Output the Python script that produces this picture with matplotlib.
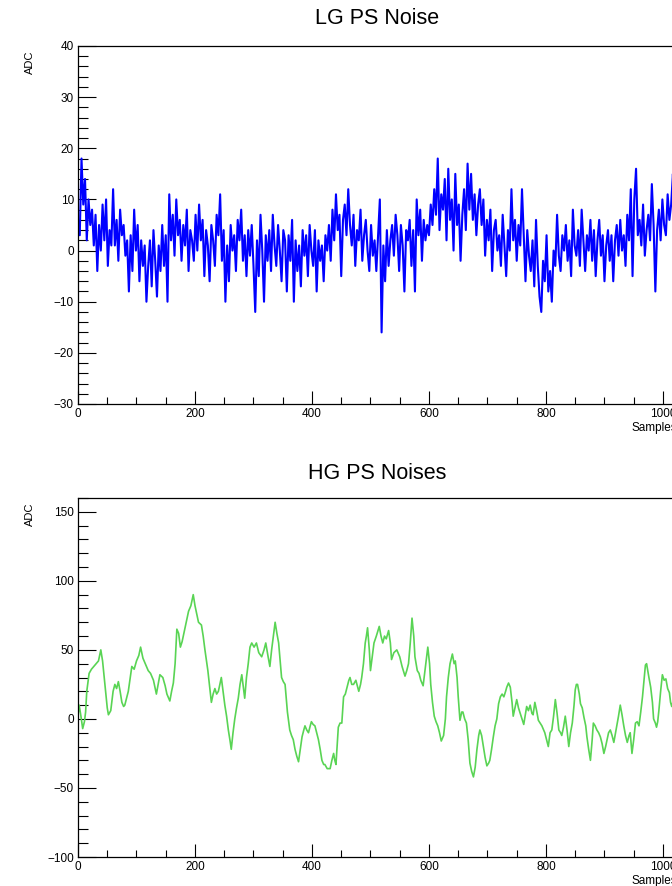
import numpy as np
import matplotlib
matplotlib.use("Agg")
import matplotlib.pyplot as plt
from matplotlib.ticker import MultipleLocator

plt.rcParams['font.family'] = ['Liberation Sans', 'DejaVu Sans']

# LG noise, one value every 3 samples
lg_step = 3
lg_adc = [
    6, 3, 18, 9, 14, 2, 10, 5, 8, 1,
    7, -4, 5, 0, 9, 2, 10, -3, 4, 1,
    12, 1, 6, -2, 8, 3, 5, -1, 2, -8,
    3, -4, 8, 0, 5, -6, 2, -3, 1, -10,
    -3, 2, -7, 4, -2, -9, 1, -4, 5, -3,
    3, -10, 11, 2, 7, -1, 10, 3, 6, -2,
    5, 1, 8, -4, 4, 2, -2, 7, 0, 9,
    2, 6, -5, 4, 1, -6, 5, 2, -3, 7,
    3, 11, -2, 4, -10, 1, -6, 5, 0, 3,
    -4, 6, 2, 8, -2, 3, -5, 4, -1, 5,
    -3, -12, 2, -5, 7, 0, -10, 3, -2, 4,
    -4, 7, 1, -3, 5, 0, -6, 4, 2, -8,
    3, -2, 6, -10, 2, -4, 1, -7, 4, -1,
    3, -5, 5, 0, -3, 4, -8, 2, -2, 1,
    -6, 3, 0, 5, -2, 8, 2, 11, 4, 7,
    -5, 6, 9, 3, 12, 5, 1, 7, -3, 4,
    2, 8, -2, 3, 6, 0, -4, 5, -1, 2,
    -4, 3, 10, -16, 1, -6, 4, -3, 2, 5,
    -1, 7, 3, -4, 5, 1, -8, 4, 2, 6,
    -3, 4, -8, 10, 3, 8, -2, 6, 2, 5,
    3, 9, 5, 12, 7, 18, 4, 11, 8, 14,
    2, 16, 6, 10, 0, 15, 5, 9, -2, 7,
    12, 4, 17, 8, 15, 6, 11, 3, 9, 12,
    5, 10, -1, 6, 2, 8, -4, 4, 6, 0,
    3, -3, 7, 1, -5, 4, 0, 12, 2, 6,
    -2, 5, 1, 12, 3, -6, 4, -1, -4, 2,
    -7, 6, -3, -9, -12, -2, -6, 3, -8, -4,
    -10, 0, -3, 7, -1, -4, 3, 0, 5, -2,
    2, -5, 8, 1, -1, 4, -3, 8, 2, -4,
    3, 0, 6, -2, 4, -5, 2, 6, -1, 3,
    -6, 1, 4, -2, 3, -6, 2, 5, -1, 6,
    0, 3, -3, 7, 2, 12, -5, 10, 16, 3,
    6, 1, 9, -1, 4, 7, 2, 13, 5, -8,
    4, 8, 2, 10, 5, 3, 11, 6, 9, 15,
    7, 12,
]

# HG noise, (sample, adc) pairs
hg_points = [
    (0, 3), (2, 10), (5, 2), (8, -7), (11, -2), (13, 5), (15, 20), (19, 33), (23, 36), (27, 38),
    (31, 40), (35, 42), (39, 50), (42, 42), (46, 25), (50, 8), (52, 3), (56, 6), (60, 20), (63, 25),
    (66, 22), (69, 27), (72, 20), (75, 12), (78, 9), (80, 10), (86, 20), (92, 38), (96, 36), (100, 42),
    (104, 46), (107, 52), (111, 44), (115, 40), (120, 35), (124, 33), (129, 28), (134, 18), (137, 25), (140, 32),
    (145, 30), (149, 24), (152, 18), (157, 13), (160, 20), (163, 26), (166, 40), (169, 65), (172, 62), (175, 52),
    (178, 56), (180, 60), (185, 70), (189, 78), (193, 82), (197, 90), (200, 82), (203, 76), (206, 70), (211, 68),
    (214, 60), (217, 50), (222, 35), (226, 20), (228, 12), (231, 18), (234, 22), (237, 18), (240, 20), (245, 30),
    (248, 20), (251, 10), (254, 2), (257, -8), (260, -16), (262, -22), (265, -10), (268, 0), (271, 8), (274, 15),
    (277, 25), (280, 32), (283, 22), (285, 15), (288, 30), (291, 40), (294, 52), (297, 55), (301, 52), (305, 55),
    (309, 48), (314, 45), (318, 50), (321, 55), (325, 45), (328, 38), (331, 50), (334, 60), (337, 70), (340, 62),
    (343, 55), (346, 40), (348, 30), (351, 27), (354, 25), (358, 5), (362, -8), (365, -12), (368, -15), (371, -22),
    (374, -27), (377, -31), (380, -22), (383, -13), (386, -8), (388, -5), (391, -8), (394, -10), (397, -5), (399, -2),
    (402, -4), (405, -5), (408, -10), (411, -15), (414, -22), (417, -30), (420, -33), (422, -33), (426, -36), (431, -36),
    (434, -30), (437, -25), (439, -30), (441, -33), (443, -20), (445, -6), (448, -3), (451, -3), (454, 16), (457, 18),
    (460, 23), (463, 28), (465, 30), (468, 25), (471, 25), (475, 28), (480, 20), (483, 25), (485, 30), (488, 40),
    (491, 55), (493, 60), (495, 66), (498, 50), (500, 35), (503, 45), (506, 55), (510, 60), (515, 67), (518, 60),
    (521, 55), (524, 60), (527, 58), (531, 64), (534, 55), (536, 43), (540, 48), (545, 50), (550, 45), (554, 38),
    (559, 31), (562, 35), (565, 40), (568, 55), (571, 73), (574, 60), (576, 45), (580, 35), (583, 33), (586, 28),
    (590, 24), (594, 38), (598, 52), (601, 40), (603, 25), (606, 12), (609, 2), (612, -2), (615, -5), (618, -10),
    (621, -16), (625, -12), (628, 0), (630, 16), (633, 30), (636, 40), (640, 47), (643, 40), (645, 42), (648, 30),
    (650, 16), (653, -1), (656, 5), (658, 5), (661, 0), (664, -3), (667, -15), (670, -32), (673, -38), (676, -42),
    (679, -35), (682, -22), (685, -12), (687, -8), (690, -12), (693, -20), (696, -28), (699, -34), (702, -32), (704, -30),
    (707, -22), (710, -13), (713, -5), (716, 0), (719, 11), (722, 16), (725, 18), (728, 16), (731, 20), (733, 23),
    (736, 26), (739, 23), (742, 12), (744, 2), (747, 8), (750, 14), (753, 8), (756, 4), (759, 0), (762, -4),
    (765, 4), (767, 9), (770, 6), (773, 10), (776, 4), (778, 3), (781, 12), (784, 6), (787, -1), (790, -3),
    (793, -5), (796, -8), (798, -10), (801, -15), (804, -20), (807, -10), (810, -8), (813, 2), (816, 14), (819, 4),
    (822, -8), (825, -10), (827, -12), (830, -6), (833, 2), (836, -8), (839, -20), (842, -10), (845, -3), (848, 10),
    (850, 21), (852, 25), (854, 25), (857, 18), (859, 11), (862, 8), (865, 1), (868, -5), (870, -13), (873, -22),
    (876, -30), (879, -15), (881, -3), (884, -5), (887, -8), (890, -10), (893, -13), (896, -18), (899, -25), (902, -20),
    (904, -16), (907, -10), (910, -8), (913, -12), (916, -17), (919, -10), (921, -5), (924, 2), (927, 10), (930, 3),
    (933, -5), (936, -12), (939, -17), (942, -12), (944, -10), (947, -25), (950, -15), (953, -3), (956, -2), (959, -5),
    (962, 5), (965, 16), (968, 30), (970, 39), (972, 40), (974, 35), (976, 30), (979, 23), (982, 12), (984, 0),
    (987, -3), (989, -6), (991, -2), (993, 6), (996, 20), (999, 32), (1002, 28), (1005, 29), (1008, 22), (1011, 19),
    (1013, 12), (1015, 9), (1018, 14), (1021, 10), (1023, 12),
]

n_samples = 1024
lg_title = "LG PS Noise"
hg_title = "HG PS Noises"


def style_axes(ax, ymin, ymax, ymajor, yminor):
    ax.set_xlim(0, n_samples)
    ax.set_ylim(ymin, ymax)
    ax.xaxis.set_major_locator(MultipleLocator(200))
    ax.xaxis.set_minor_locator(MultipleLocator(50))
    ax.yaxis.set_major_locator(MultipleLocator(ymajor))
    ax.yaxis.set_minor_locator(MultipleLocator(yminor))
    ax.tick_params(axis='x', which='major', direction='in', length=9.5, width=0.8,
                   labelsize=8.5, pad=3, top=False)
    ax.tick_params(axis='x', which='minor', direction='in', length=5, width=0.8, top=False)
    ax.tick_params(axis='y', which='major', direction='in', length=13, width=0.8,
                   labelsize=8.5, pad=3, right=False)
    ax.tick_params(axis='y', which='minor', direction='in', length=7, width=0.8, right=False)
    for sp in ax.spines.values():
        sp.set_linewidth(0.9)


fig = plt.figure(figsize=(6.72, 8.86), dpi=100)

left = 78 / 672
width = (677 - 78) / 672

ax1 = fig.add_axes([left, 1 - 404 / 886, width, (404 - 46) / 886])
lg_x = np.arange(len(lg_adc)) * lg_step
ax1.plot(lg_x, lg_adc, color='#0000ff', lw=1.5)
style_axes(ax1, -30, 40, 10, 2)

ax2 = fig.add_axes([left, 1 - 857 / 886, width, (857 - 498) / 886])
hg_x = [p[0] for p in hg_points]
hg_y = [p[1] for p in hg_points]
ax2.plot(hg_x, hg_y, color='#59d454', lw=1.2)
style_axes(ax2, -100, 160, 50, 10)

fig.text(377 / 672, 1 - 18 / 886, lg_title, ha='center', va='center', fontsize=15.5)
fig.text(377 / 672, 1 - 473 / 886, hg_title, ha='center', va='center', fontsize=15.5)

for ytop in (46, 498):
    fig.text(30 / 672, 1 - (ytop + 4) / 886, "ADC", rotation=90, ha='center', va='top', fontsize=8)
for ybot in (404, 857):
    fig.text(677 / 672, 1 - (ybot + 24) / 886, "Samples", ha='right', va='center', fontsize=8.5)

fig.savefig("out.png", dpi=100)
